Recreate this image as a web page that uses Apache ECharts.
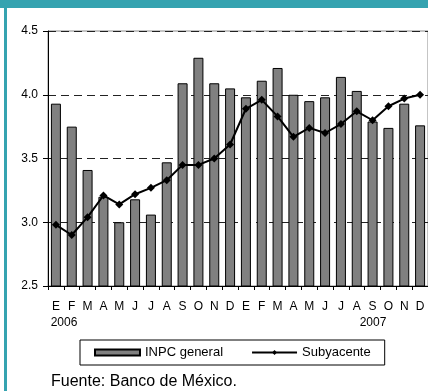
<!DOCTYPE html>
<html>
<head>
<meta charset="utf-8">
<script src="https://cdn.jsdelivr.net/npm/echarts@6/dist/echarts.min.js"></script>
<style>
  html, body { margin: 0; padding: 0; background: #fff; }
  #chart { width: 428px; height: 391px; }
</style>
</head>
<body>
<div id="chart"></div>
<script>
// Monthly inflation, Jan 2006 – Dec 2007 (annual %, INPC vs. core)
const months = ['E','F','M','A','M','J','J','A','S','O','N','D',
                'E','F','M','A','M','J','J','A','S','O','N','D'];
const inpcGeneral = [3.93, 3.75, 3.41, 3.20, 3.00, 3.18, 3.06, 3.47, 4.09, 4.29, 4.09, 4.05,
                     3.98, 4.11, 4.21, 4.00, 3.95, 3.98, 4.14, 4.03, 3.79, 3.74, 3.93, 3.76];
const subyacente = [2.98, 2.90, 3.04, 3.21, 3.14, 3.22, 3.27, 3.33, 3.45, 3.45, 3.50, 3.61,
                    3.89, 3.96, 3.83, 3.67, 3.74, 3.70, 3.77, 3.87, 3.80, 3.91, 3.97, 4.00];
const yTicks = [2.5, 3.0, 3.5, 4.0, 4.5];

const FONT = "'Liberation Sans', Arial, sans-serif";
const TEAL = '#35a3b0';

const chart = echarts.init(document.getElementById('chart'));
chart.setOption({
  animation: false,
  backgroundColor: '#fff',
  textStyle: { fontFamily: FONT, color: '#000' },
  grid: {
    left: 48, right: 0, top: 31, bottom: 105,
    show: true, borderColor: '#8a8a8a', borderWidth: 1, backgroundColor: 'transparent'
  },
  xAxis: {
    type: 'category',
    data: months,
    boundaryGap: true,
    axisLine: { lineStyle: { color: '#000', width: 1 } },
    axisTick: { show: true, length: 4, lineStyle: { color: '#000' } },
    axisLabel: { color: '#000', fontSize: 12, fontFamily: FONT, margin: 15, interval: 0 }
  },
  yAxis: {
    type: 'value',
    min: yTicks[0], max: yTicks[yTicks.length - 1], interval: 0.5,
    axisLine: { show: true, lineStyle: { color: '#000', width: 1 } },
    axisTick: { show: true, length: 5, lineStyle: { color: '#000' } },
    axisLabel: {
      color: '#000', fontSize: 12, fontFamily: FONT, margin: 10,
      formatter: v => v.toFixed(1)
    },
    splitLine: { show: true, lineStyle: { color: '#222', type: [8, 5], width: 1 } }
  },
  legend: {
    data: [
      { name: 'INPC general', icon: 'rect' },
      { name: 'Subyacente' }
    ],
    left: 80, top: 340,
    padding: [6, 14, 6, 14],
    borderColor: '#000', borderWidth: 1,
    itemWidth: 45, itemHeight: 6, itemGap: 28,
    textStyle: { fontSize: 13, fontFamily: FONT, color: '#000' }
  },
  series: [
    {
      name: 'INPC general',
      type: 'bar',
      data: inpcGeneral,
      barWidth: 10,
      itemStyle: { color: '#808080', borderColor: '#000', borderWidth: 1 },
      z: 2
    },
    {
      name: 'Subyacente',
      type: 'line',
      data: subyacente,
      symbol: 'diamond',
      symbolSize: 8,
      lineStyle: { color: '#000', width: 2 },
      itemStyle: { color: '#000' },
      z: 3
    }
  ],
  graphic: [
    // frame: top band and left strip
    { type: 'rect', left: 0, top: 0, shape: { width: 428, height: 8 }, style: { fill: TEAL }, z: 10 },
    { type: 'rect', left: 4, top: 0, shape: { width: 3, height: 391 }, style: { fill: TEAL }, z: 10 },
    // year labels under the month axis
    { type: 'text', x: 64, y: 323, style: { text: '2006', font: '12px ' + FONT, fill: '#000', align: 'center', verticalAlign: 'middle' } },
    { type: 'text', x: 373, y: 323, style: { text: '2007', font: '12px ' + FONT, fill: '#000', align: 'center', verticalAlign: 'middle' } },
    // source note
    { type: 'text', x: 51, y: 382, style: { text: 'Fuente: Banco de México.', font: '16px ' + FONT, fill: '#000', align: 'left', verticalAlign: 'middle' } }
  ]
});
</script>
</body>
</html>
